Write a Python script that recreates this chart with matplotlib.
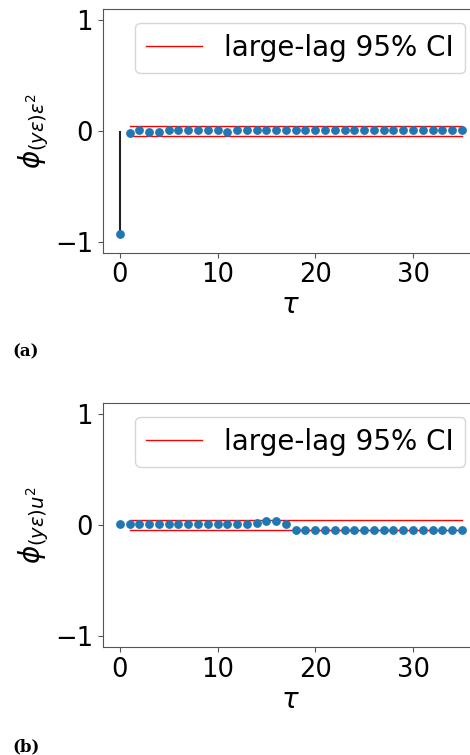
import matplotlib
matplotlib.use("Agg")
import matplotlib.pyplot as plt
import numpy as np

lags = np.arange(0, 36)

# panel (a): cross-correlation phi_(y eps) eps^2
phi_a = [-0.935, -0.02, 0.005, -0.006, -0.012, 0.004, 0.004, 0.004, 0.004, 0.004,
         0.004, -0.008, 0.004, 0.004, 0.004, 0.004, 0.004, 0.004, 0.004, 0.004,
         0.004, 0.004, 0.004, 0.004, 0.004, 0.004, 0.004, 0.004, 0.004, 0.004,
         0.004, 0.004, 0.004, 0.004, 0.004, 0.004]
# panel (b): cross-correlation phi_(y eps) u^2
phi_b = [0.01, 0.01, 0.01, 0.01, 0.01, 0.01, 0.01, 0.01, 0.01, 0.01,
         0.01, 0.01, 0.01, 0.01, 0.02, 0.035, 0.035, 0.01, -0.042, -0.042,
         -0.042, -0.042, -0.042, -0.042, -0.042, -0.042, -0.042, -0.042, -0.042, -0.042,
         -0.042, -0.042, -0.042, -0.042, -0.042, -0.042]
ci_a = 0.045
ci_b = 0.045

ylabels = [r'$\phi_{(y\varepsilon)\varepsilon^2}$', r'$\phi_{(y\varepsilon)u^2}$']
panel_labels = ['(a)', '(b)']
legend_label = 'large-lag 95% CI'

fig = plt.figure(figsize=(4.7, 7.55), dpi=100)
positions = [[0.2185, 0.6653, 0.8006, 0.3228], [0.2185, 0.1427, 0.8006, 0.3240]]
label_y = [1 - 352 / 755, 1 - 747 / 755]

for pos, vals, ci, ylab, plab, ly in zip(positions, [phi_a, phi_b], [ci_a, ci_b],
                                        ylabels, panel_labels, label_y):
    ax = fig.add_axes(pos)
    vals = np.array(vals)
    ax.vlines(lags[:1], 0, vals[:1], color='#222222', lw=1.5, zorder=1)
    ax.plot(lags, vals, 'o', color='#1f77b4', ms=5.3, zorder=3)
    ax.plot(lags[1:], np.full(len(lags) - 1, ci), color='red', lw=1.0,
            label=legend_label, zorder=2)
    ax.plot(lags[1:], np.full(len(lags) - 1, -ci), color='red', lw=1.0, zorder=2)
    ax.set_xlim(-1.75, 36.75)
    ax.set_ylim(-1.1, 1.1)
    ax.set_yticks([-1, 0, 1])
    ax.set_xticks([0, 10, 20, 30])
    ax.tick_params(labelsize=18.5, color='#555555')
    for s in ax.spines.values():
        s.set_color('#555555')
    ax.set_xlabel(r'$\tau$', fontsize=20, labelpad=2)
    ax.set_ylabel(ylab, fontsize=20, labelpad=3)
    ax.legend(loc='upper right', fontsize=20)
    fig.text(12 / 470, ly, plab, fontsize=12, fontweight='bold',
             family='DejaVu Serif', va='center', ha='left')

fig.savefig('out.png', dpi=100)
